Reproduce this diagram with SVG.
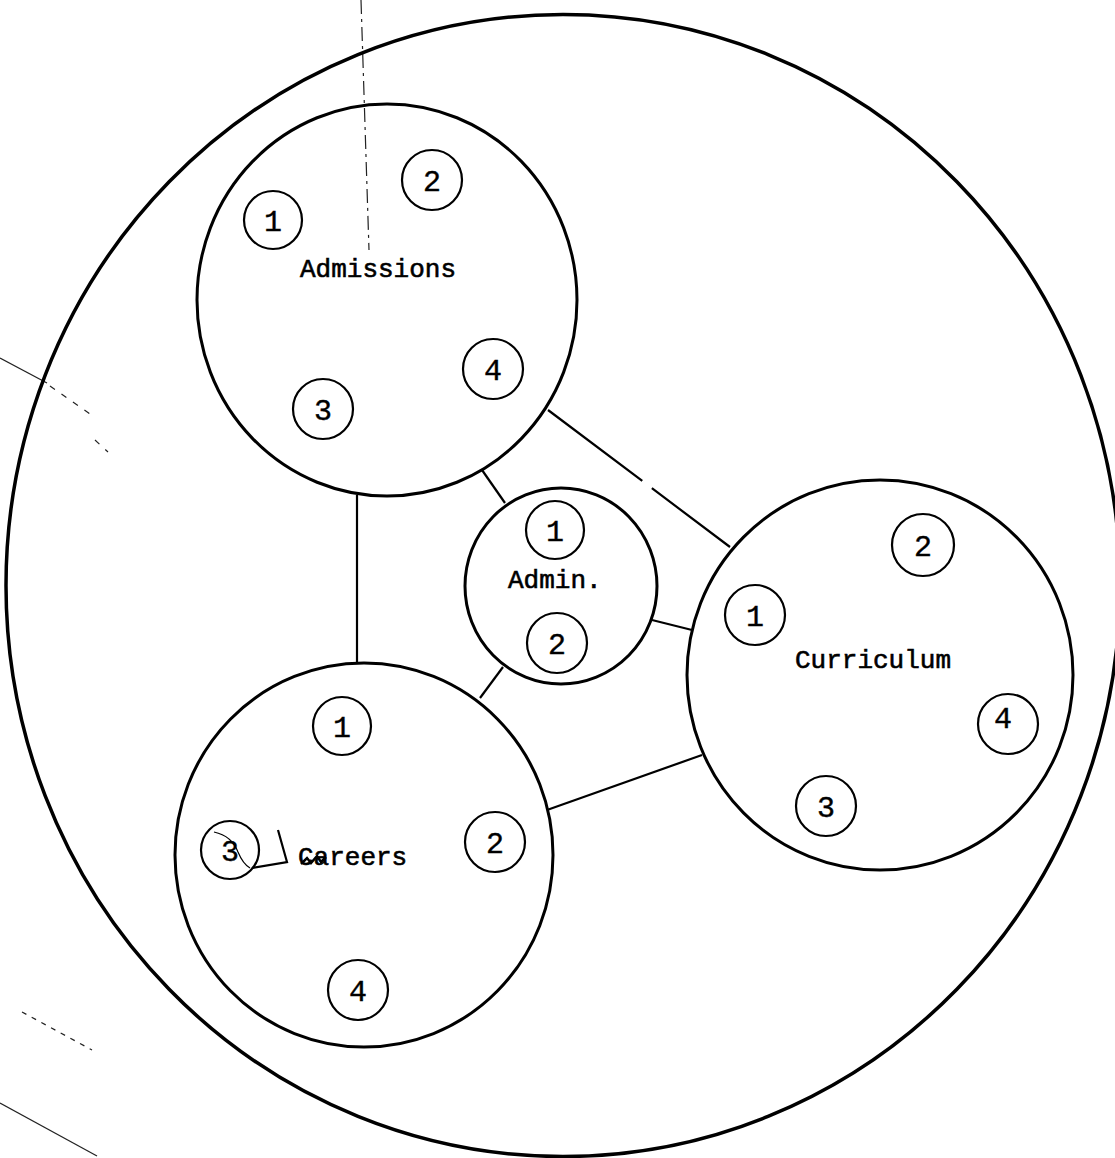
<svg xmlns="http://www.w3.org/2000/svg" width="1115" height="1158" viewBox="0 0 1115 1158">
<style>
.big{fill:none;stroke:#000;stroke-width:3}
.outer{fill:none;stroke:#000;stroke-width:3.5}
.sm{fill:none;stroke:#000;stroke-width:2.2}
.lbl{font-family:"Liberation Mono","DejaVu Sans Mono",monospace;font-size:26px;fill:#000;stroke:#000;stroke-width:0.6}
.num{font-family:"Liberation Mono","DejaVu Sans Mono",monospace;font-size:30px;fill:#000;text-anchor:middle;stroke:#000;stroke-width:0.4}
.con{stroke:#000;stroke-width:2.2;fill:none}
.stray{stroke:#222;stroke-width:1.2;fill:none}
</style>
<rect width="1115" height="1158" fill="#fff"/>
<g id="stray-marks">
<path class="stray" d="M0,358 L47,383"/>
<path class="stray" d="M50,386 L90,414 M95,440 L108,452" stroke-dasharray="6 8"/>
<path class="stray" d="M0,1103 L97,1156"/>
<path class="stray" d="M22,1012 L92,1050" stroke-dasharray="5 6"/>
<path class="stray" d="M361,0 L369,250" stroke="#999" stroke-width="0.8" stroke-dasharray="14 5 3 5"/>
</g>
<g id="boundary">
<ellipse class="outer" cx="563" cy="585.5" rx="557" ry="571"/>
</g>
<g id="connectors">
<line class="con" x1="357" y1="495" x2="357" y2="663"/>
<line class="con" x1="482" y1="470" x2="505" y2="503"/>
<line class="con" x1="548" y1="410" x2="730" y2="547" stroke-dasharray="118 12 200"/>
<line class="con" x1="652" y1="620" x2="692" y2="630"/>
<line class="con" x1="503" y1="667" x2="480" y2="698"/>
<line class="con" x1="547" y1="810" x2="702" y2="755"/>
</g>
<g id="admissions">
<ellipse class="big" cx="387" cy="300" rx="190" ry="196"/>
<text class="lbl" x="300" y="277">Admissions</text>
<circle class="sm" cx="273" cy="220" r="29"/><text class="num" x="273" y="231">1</text>
<circle class="sm" cx="432" cy="180" r="30"/><text class="num" x="432" y="191">2</text>
<circle class="sm" cx="323" cy="409" r="30"/><text class="num" x="323" y="420">3</text>
<circle class="sm" cx="493" cy="369" r="30"/><text class="num" x="493" y="380">4</text>
</g>
<g id="admin">
<ellipse class="big" cx="561" cy="586" rx="96" ry="98"/>
<text class="lbl" x="508" y="588">Admin.</text>
<circle class="sm" cx="555" cy="530" r="29"/><text class="num" x="555" y="541">1</text>
<circle class="sm" cx="557" cy="643" r="30"/><text class="num" x="557" y="654">2</text>
</g>
<g id="curriculum">
<ellipse class="big" cx="880" cy="675" rx="193" ry="195"/>
<text class="lbl" x="795" y="668">Curriculum</text>
<circle class="sm" cx="755" cy="615" r="30"/><text class="num" x="755" y="626">1</text>
<circle class="sm" cx="923" cy="545" r="31"/><text class="num" x="923" y="556">2</text>
<circle class="sm" cx="826" cy="806" r="30"/><text class="num" x="826" y="817">3</text>
<circle class="sm" cx="1008" cy="724" r="30"/><text class="num" x="1003" y="728">4</text>
</g>
<g id="careers">
<ellipse class="big" cx="364" cy="855" rx="189" ry="192"/>
<text class="lbl" x="298" y="865">Careers</text>
<path d="M301,864 l6,-6 l4,5 l6,-7 l4,6 l5,-5" stroke="#000" stroke-width="2.5" fill="none"/>
<circle class="sm" cx="342" cy="726" r="29"/><text class="num" x="342" y="737">1</text>
<circle class="sm" cx="495" cy="842" r="30"/><text class="num" x="495" y="853">2</text>
<circle class="sm" cx="230" cy="850" r="29"/><text class="num" x="230" y="861">3</text>
<path d="M214,832 Q232,836 238,852 Q243,864 250,868" stroke="#000" stroke-width="1.2" fill="none"/>
<path d="M278,830 L287,862 L252,868" stroke="#000" stroke-width="2.2" fill="none"/>
<circle class="sm" cx="358" cy="990" r="30"/><text class="num" x="358" y="1001">4</text>
</g>
</svg>
